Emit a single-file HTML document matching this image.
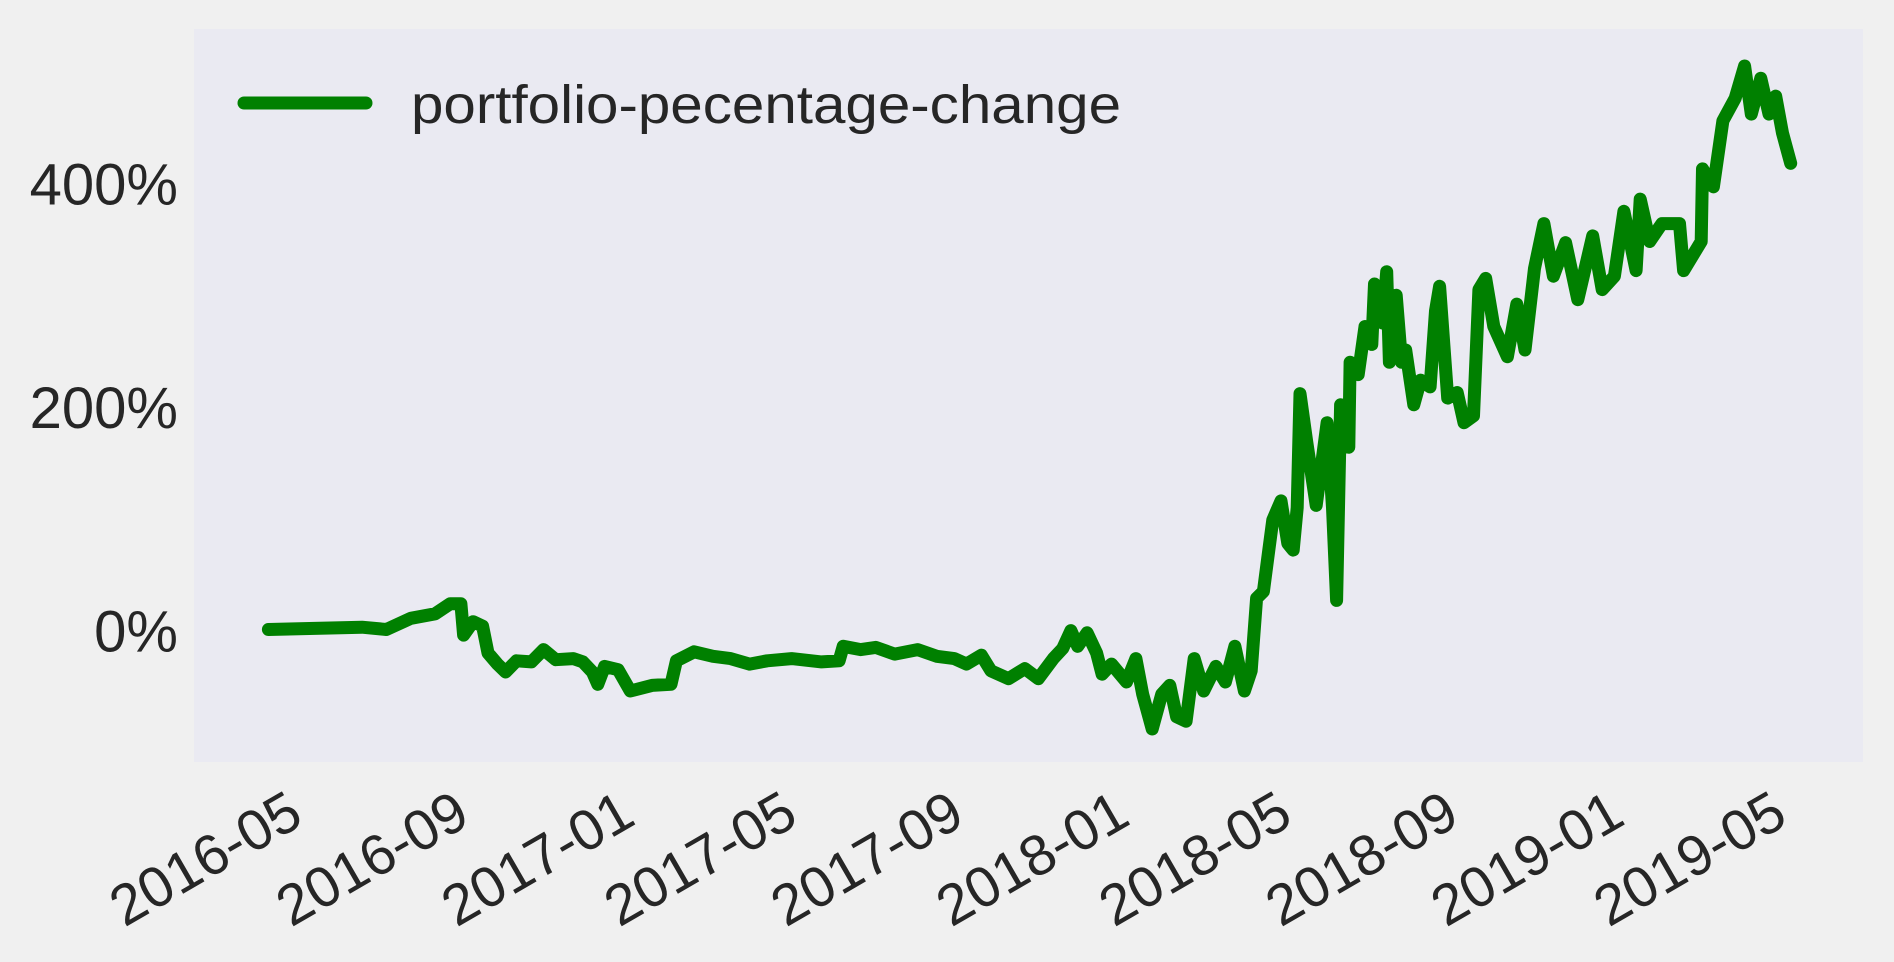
<!DOCTYPE html>
<html><head><meta charset="utf-8"><style>
html,body{margin:0;padding:0;background:#f0f0f0;}
svg{display:block;font-family:"Liberation Sans",sans-serif;}
</style></head><body>
<svg id="chart" width="1894" height="962" viewBox="0 0 1894 962">
<rect x="0" y="0" width="1894" height="962" fill="#f0f0f0"/>
<rect x="194" y="29" width="1669" height="733" fill="#eaeaf2"/>
<g id="yticks"></g><g id="xticks"></g>
<path id="series" fill="none" stroke="#008000" stroke-width="13" stroke-linejoin="round" stroke-linecap="round"/>
<g>
<line x1="244" y1="103" x2="366" y2="103" stroke="#008000" stroke-width="13" stroke-linecap="round"/>
<text x="411" y="123" font-size="54" fill="#262626" textLength="710" lengthAdjust="spacingAndGlyphs">portfolio-pecentage-change</text>
</g>
</svg>
<script>
// days since 2016-05-01
const days = [-23,11,46,64,82,100,111,119,121,128,135,139,146,152,160,171,180,189,202,209,216,220,225,235,244,260,274,278,291,305,318,332,345,363,385,398,401,414,425,439,456,470,483,492,503,510,523,535,545,556,563,569,574,581,588,592,599,610,617,622,629,636,642,647,654,660,667,676,683,690,697,702,706,711,715,718,724,729,733,736,738,743,750,758,762,765,768,774,775,781,786,791,793,799,802,804,809,813,816,822,827,834,838,841,847,854,859,866,870,875,881,891,898,904,911,918,925,934,943,954,961,970,977,986,989,996,1005,1018,1021,1034,1035,1043,1050,1059,1066,1071,1078,1084,1089,1094,1100];
const values = [1,2,3,1,11,15,24,24,-4,8,4,-20,-30,-37,-27,-28,-17,-26,-25,-28,-37,-48,-32,-35,-54,-49,-48,-27,-19,-23,-25,-30,-27,-25,-28,-27,-14,-17,-15,-21,-17,-23,-25,-30,-22,-36,-43,-34,-43,-25,-16,0,-14,-2,-20,-39,-30,-46,-25,-57,-88,-57,-49,-77,-81,-25,-54,-32,-46,-14,-54,-36,29,35,72,99,116,78,72,110,212,169,112,186,110,27,202,164,240,229,272,256,310,275,321,240,300,240,251,202,224,218,286,308,208,213,186,192,305,315,272,245,292,251,324,364,317,347,296,353,305,317,375,322,386,348,364,364,322,348,413,397,456,476,505,462,494,462,478,445,418];
const yTicks = [0,200,400];
const yTickLabels = ["0%","200%","400%"];
const xTickLabels = ["2016-05","2016-09","2017-01","2017-05","2017-09","2018-01","2018-05","2018-09","2019-01","2019-05"];

const base = Date.UTC(2016,4,1);
const xScale = d => 299.6 + d*1.3555;
const yScale = v => 630.6 - v*1.118;
const NS="http://www.w3.org/2000/svg";

const yg=document.getElementById('yticks');
yTicks.forEach((v,i)=>{
  const t=document.createElementNS(NS,'text');
  
  
  t.setAttribute('x',178);t.setAttribute('y',yScale(v)+21);
  t.setAttribute('text-anchor','end');t.setAttribute('font-size','58');t.setAttribute('fill','#262626');
  t.textContent=yTickLabels[i];yg.appendChild(t);
});
const xg=document.getElementById('xticks');
xTickLabels.forEach(l=>{
  const [yy,mm]=l.split('-').map(Number);
  const d=(Date.UTC(yy,mm-1,1)-base)/86400000;
  const x=xScale(d);
  const t=document.createElementNS(NS,'text');
  
  
  t.setAttribute('text-anchor','end');t.setAttribute('font-size','57');t.setAttribute('fill','#262626');
  t.setAttribute('transform','translate('+(x+6)+',823) rotate(-30)');
  t.textContent=l;xg.appendChild(t);
});
let p='';
days.forEach((d,i)=>{p+=(i?'L':'M')+xScale(d).toFixed(1)+','+yScale(values[i]).toFixed(1);});
document.getElementById('series').setAttribute('d',p);
</script>
</body></html>
